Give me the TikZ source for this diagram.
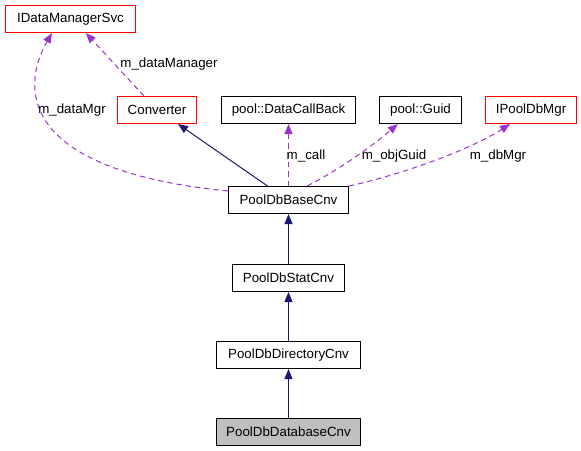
\documentclass[tikz,border=0pt]{standalone}
\usepackage{fontspec}
\setmainfont{Liberation Sans}
\usepackage{tikz}
\usetikzlibrary{arrows.meta}
\definecolor{usepurple}{HTML}{9A32CD}
\definecolor{inhnavy}{HTML}{191970}
\begin{document}
\begin{tikzpicture}[x=0.75pt,y=-0.75pt,
		cls/.style={draw=black,line width=0.75pt,inner xsep=7pt,minimum height=20.25pt,font=\fontsize{10}{12}\selectfont},
		iface/.style={cls,draw=red},
		usage/.style={usepurple,line width=0.75pt,dash pattern=on 4pt off 3pt,-{Triangle[length=7.5pt,width=6pt]}},
		inherit/.style={inhnavy,line width=0.75pt,-{Triangle[length=7.5pt,width=6pt]}},
		lbl/.style={font=\fontsize{10}{12}\selectfont}]
		\useasboundingbox (0,0) rectangle (581,450);
		\node[iface,minimum width=97.5pt] (idms) at (70.5,19) {IDataManagerSvc};
		\node[iface,minimum width=59.25pt] (conv) at (157,110) {Converter};
		\node[cls,minimum width=100.5pt] (callback) at (288.5,110) {pool::DataCallBack};
		\node[cls,minimum width=61.5pt] (guid) at (420.5,110) {pool::Guid};
		\node[iface,minimum width=68.25pt] (dbmgr) at (531,110) {IPoolDbMgr};
		\node[cls,minimum width=90pt] (basecnv) at (288.5,200) {PoolDbBaseCnv};
		\node[cls,minimum width=84pt] (statcnv) at (288.5,278) {PoolDbStatCnv};
		\node[cls,minimum width=108pt] (dircnv) at (288.5,355) {PoolDbDirectoryCnv};
		\node[cls,minimum width=108pt,fill=black!25] (dbcnv) at (288.5,432) {PoolDbDatabaseCnv};
		\foreach \a/\b in {statcnv/basecnv,dircnv/statcnv,dbcnv/dircnv}
			\draw[inherit] (\a.north) -- (\a.north |- \b.south);
		\draw[inherit] ([xshift=-15.75pt]basecnv.north) -- ([xshift=15.75pt]conv.south);
		\draw[usage] ([xshift=-9.75pt]conv.north) -- ([xshift=11.5pt]idms.south);
		\draw[usage] ([yshift=6.75pt]basecnv.west) .. controls (15,170) and (22,85) .. ([xshift=-13.9pt]idms.south);
		\draw[usage] (basecnv.north) -- (basecnv.north |- callback.south);
		\draw[usage] ([xshift=14pt]basecnv.north) .. controls (335,172) and (370,148) .. ([xshift=-17pt]guid.south);
		\draw[usage] (basecnv.north east) .. controls (400,175) and (470,150) .. ([xshift=-15.75pt]dbmgr.south);
		\node[lbl] (lbldatamanager) at (169,64) {m\_dataManager};
		\node[lbl] (lbldatamgr) at (72,110) {m\_dataMgr};
		\node[lbl] (lblcall) at (306,156) {m\_call};
		\node[lbl] (lblobjguid) at (394,156) {m\_objGuid};
		\node[lbl] (lbldbmgr) at (498,156) {m\_dbMgr};
	\end{tikzpicture}
\end{document}
